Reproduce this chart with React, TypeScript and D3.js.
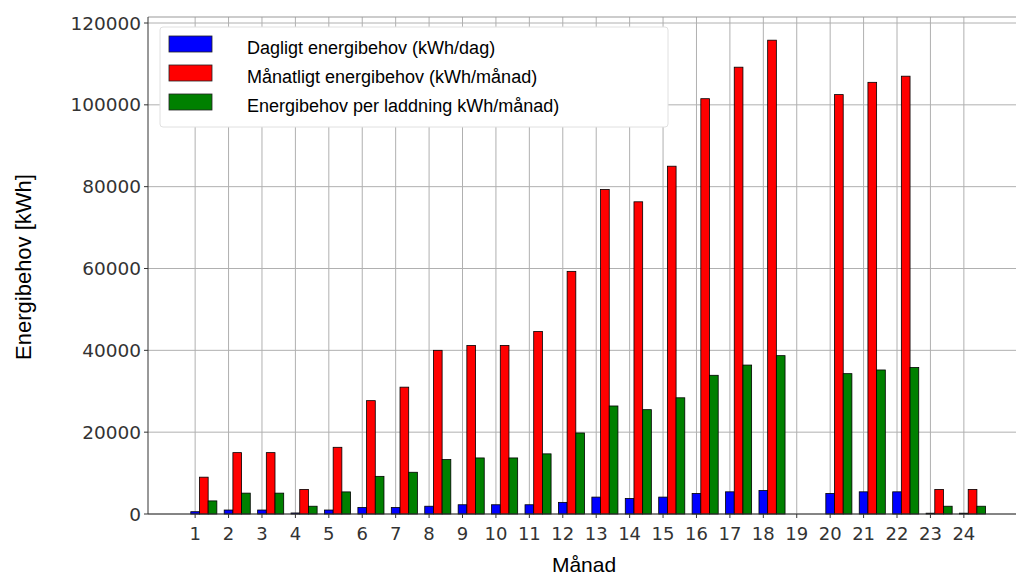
import React from "react";
import * as d3 from "d3";

const months = d3.range(1, 25);
const dailyNeed = [560, 970, 970, 250, 970, 1600, 1600, 1900, 2260, 2260, 2260, 2840, 4130, 3800, 4130, 5030, 5420, 5750, 0, 5030, 5420, 5420, 200, 200];
const monthlyNeed = [9000, 15000, 15000, 6000, 16300, 27700, 31000, 40000, 41200, 41200, 44600, 59300, 79300, 76300, 85000, 101500, 109200, 115800, 0, 102500, 105500, 107000, 6000, 6000];
const chargeNeed = [3200, 5100, 5100, 1900, 5400, 9200, 10200, 13300, 13700, 13700, 14700, 19800, 26400, 25500, 28400, 33900, 36400, 38700, 0, 34300, 35200, 35800, 1900, 1900];
const yTicks = [0, 20000, 40000, 60000, 80000, 100000, 120000];

const seriesNames = [
  "Dagligt energibehov (kWh/dag)",
  "Månatligt energibehov (kWh/månad)",
  "Energibehov per laddning kWh/månad)",
];
const seriesColors = ["#0000ff", "#ff0000", "#008000"];
const seriesData = [dailyNeed, monthlyNeed, chargeNeed];

const W = 1016;
const H = 576;
const left = 148;
const right = 1016;
const top = 17;
const bottom = 514;

export default function App() {
  const x = d3.scaleLinear().domain([-0.41, 25.56]).range([left, right]);
  const y = d3.scaleLinear().domain([0, 120000]).range([bottom, 23]);
  const yTop = y.invert(top);
  const bw = 0.26;
  const tickFont = "DejaVu Sans, sans-serif";
  const labelFont = "Liberation Sans, Arial, sans-serif";

  return (
    <svg width={W} height={H} style={{ position: "absolute", left: 0, top: 0, background: "#fff" }}>
      <rect x={0} y={0} width={W} height={H} fill="#fff" />
      {/* grid */}
      {yTicks.map((t) => (
        <line key={"gy" + t} x1={left} x2={right} y1={y(t)} y2={y(t)} stroke="#b0b0b0" strokeWidth={1} />
      ))}
      {months.map((m) => (
        <line key={"gx" + m} x1={x(m)} x2={x(m)} y1={y(yTop)} y2={bottom} stroke="#b0b0b0" strokeWidth={1} />
      ))}
      <line x1={left} x2={right} y1={top} y2={top} stroke="#999" strokeWidth={1} />
      {/* bars */}
      {seriesData.map((data, si) =>
        data.map((v, i) =>
          v > 0 ? (
            <rect
              key={"b" + si + "-" + i}
              x={x(months[i] - bw / 2 + si * bw)}
              y={y(v)}
              width={x(bw) - x(0)}
              height={bottom - y(v)}
              fill={seriesColors[si]}
              stroke="#000"
              strokeWidth={0.8}
            />
          ) : null
        )
      )}
      {/* axes */}
      <line x1={left} x2={left} y1={top} y2={bottom} stroke="#333" strokeWidth={1} />
      <line x1={left} x2={right} y1={bottom} y2={bottom} stroke="#333" strokeWidth={1} />
      {yTicks.map((t) => (
        <g key={"ty" + t}>
          <line x1={left - 4} x2={left} y1={y(t)} y2={y(t)} stroke="#333" />
          <text x={left - 7} y={y(t)} dy="0.36em" textAnchor="end" fontFamily={tickFont} fontSize={18.5} fill="#333">
            {t}
          </text>
        </g>
      ))}
      {months.map((m) => (
        <g key={"tx" + m}>
          <line x1={x(m)} x2={x(m)} y1={bottom} y2={bottom + 4} stroke="#333" />
          <text x={x(m)} y={540} textAnchor="middle" fontFamily={tickFont} fontSize={18} fill="#333">
            {m}
          </text>
        </g>
      ))}
      <text x={584} y={572} textAnchor="middle" fontFamily={labelFont} fontSize={21} fill="#000">
        Månad
      </text>
      <text
        transform={`translate(31,267) rotate(-90)`}
        textAnchor="middle"
        fontFamily={labelFont}
        fontSize={22}
        fill="#000"
      >
        Energibehov [kWh]
      </text>
      {/* legend */}
      <rect x={160} y={27} width={508} height={100} rx={3} fill="#fff" stroke="#e0e0e0" strokeWidth={1} />
      {seriesNames.map((n, i) => (
        <g key={"lg" + i}>
          <rect x={169} y={36 + i * 29} width={43} height={16} fill={seriesColors[i]} stroke="#222" strokeWidth={0.8} />
          <text x={247} y={48 + i * 29} dy="0.36em" fontFamily={labelFont} fontSize={18} fill="#000">
            {n}
          </text>
        </g>
      ))}
    </svg>
  );
}
